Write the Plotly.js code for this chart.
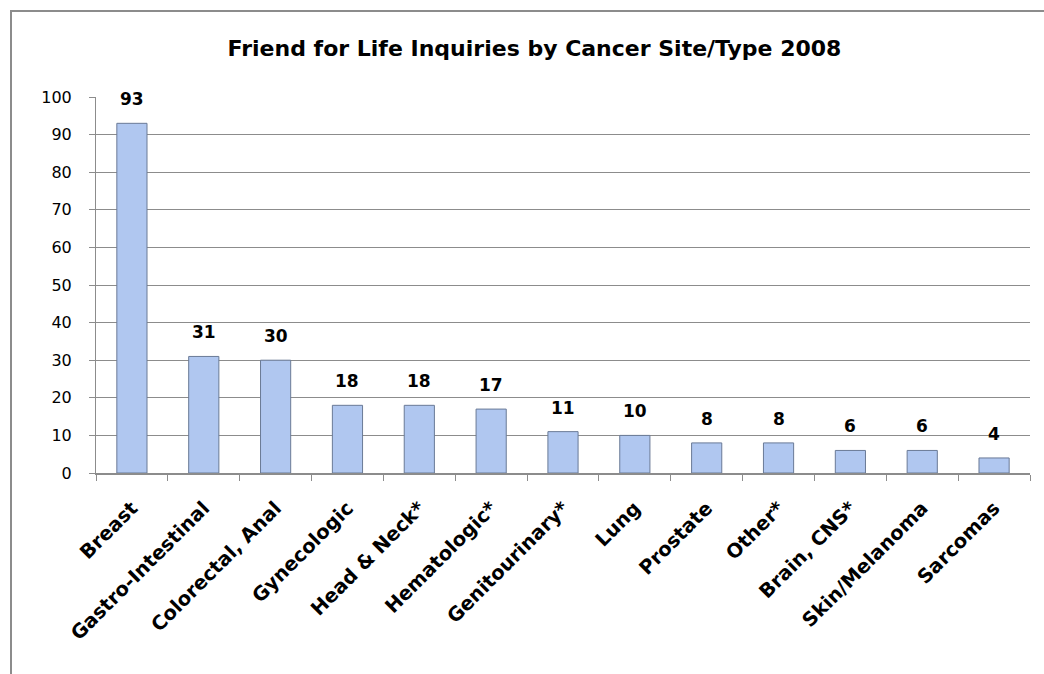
<!DOCTYPE html>
<html>
<head>
<meta charset="utf-8">
<script src="https://cdn.plot.ly/plotly-3.0.1.min.js"></script>
<style>
  html, body { margin: 0; padding: 0; background: #ffffff; }
  #frame { position: absolute; left: 10px; top: 10px; width: 1040px; height: 670px;
           border-left: 2px solid #8c8c8c; border-top: 2px solid #8c8c8c; box-sizing: border-box; pointer-events: none; z-index: 5; }
  #chart { position: absolute; left: 0; top: 0; width: 1044px; height: 674px; }
</style>
</head>
<body>
<div id="chart"></div>
<div id="frame"></div>
<script>
const categories = ["Breast", "Gastro-Intestinal", "Colorectal, Anal", "Gynecologic", "Head & Neck*",
  "Hematologic*", "Genitourinary*", "Lung", "Prostate", "Other*", "Brain, CNS*", "Skin/Melanoma", "Sarcomas"];
const inquiries = [93, 31, 30, 18, 18, 17, 11, 10, 8, 8, 6, 6, 4];
const yTicks = [0, 10, 20, 30, 40, 50, 60, 70, 80, 90, 100];
const chartTitle = "Friend for Life Inquiries by Cancer Site/Type 2008";

const fontFamily = "DejaVu Sans, Liberation Sans, sans-serif";

const trace = {
  type: "bar",
  x: categories,
  y: inquiries,
  marker: { color: "#b0c7f0", line: { color: "#6a7a96", width: 1 } },
  hoverinfo: "x+y"
};

const valueLabels = categories.map((c, i) => ({
  x: c, y: inquiries[i], xref: "x", yref: "y",
  text: "<b>" + inquiries[i] + "</b>",
  showarrow: false, yanchor: "bottom", yshift: 12,
  font: { family: fontFamily, size: 17, color: "#000000" }
}));

const layout = {
  width: 1044,
  height: 674,
  margin: { l: 96, r: 14, t: 97, b: 201, pad: 0 },
  paper_bgcolor: "#ffffff",
  plot_bgcolor: "#ffffff",
  showlegend: false,
  bargap: 0.58,
  annotations: valueLabels,
  title: {
    text: "<b>" + chartTitle + "</b>",
    font: { family: fontFamily, size: 22, color: "#000000" },
    x: 0.512, xanchor: "center",
    y: 1 - 48 / 674, yanchor: "middle", yref: "container"
  },
  xaxis: {
    type: "category",
    tickangle: -45,
    tickson: "boundaries",
    ticks: "outside",
    ticklen: 6,
    tickcolor: "#8c8c8c",
    ticklabelstandoff: 14,
    showline: true,
    linecolor: "#8c8c8c",
    linewidth: 2,
    showgrid: false,
    tickfont: { family: fontFamily, size: 19.5, color: "#000000", weight: "bold" },
    fixedrange: true
  },
  yaxis: {
    range: [0, 100],
    tickvals: yTicks,
    ticks: "outside",
    ticklen: 6,
    tickcolor: "#8c8c8c",
    ticklabelstandoff: 14,
    showline: true,
    linecolor: "#8c8c8c",
    linewidth: 1,
    showgrid: true,
    gridcolor: "#8c8c8c",
    gridwidth: 1,
    zeroline: false,
    tickfont: { family: fontFamily, size: 16, color: "#000000" },
    fixedrange: true
  }
};

Plotly.newPlot("chart", [trace], layout, { displayModeBar: false, staticPlot: true });
</script>
</body>
</html>
